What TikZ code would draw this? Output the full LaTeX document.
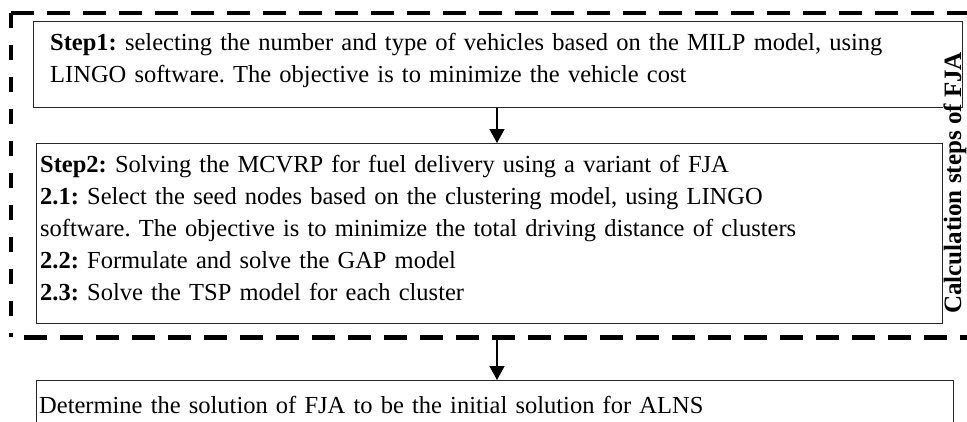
\documentclass[tikz,border=0pt]{standalone}
\usepackage{fontspec}
\setmainfont{Liberation Serif}
\usetikzlibrary{arrows.meta}
\frenchspacing
\begin{document}
\begin{tikzpicture}[x=1pt,y=-1pt,
  frame/.style={draw=black!85, line width=1.4pt, inner sep=0pt, anchor=north west},
  body/.style={inner sep=0pt, anchor=base west, align=left, text width=925pt,
    font=\fontsize{24.5}{32.5}\selectfont},
  flow/.style={line width=1.4pt, -{Triangle[length=14pt,width=15pt]}},
  hdash/.style={line width=4.5pt, dash pattern=on 23pt off 13pt},
  vdash/.style={line width=4pt, dash pattern=on 15pt off 17pt},
]
\useasboundingbox (0,0) rectangle (967,421);

% group frame around the two FJA steps
\node[inner sep=0pt, anchor=north west, minimum width=969pt, minimum height=324pt] (grp) at (11,13) {};
\draw[hdash] (grp.north west) -- (grp.north east);
\draw[vdash] (grp.north west) -- (grp.south west);
\draw[hdash, dash phase=23pt] (grp.south west) -- (grp.south east);

% step boxes
\node[frame, minimum width=929pt, minimum height=86pt] (s1) at (33,21) {};
\node[frame, minimum width=906pt, minimum height=180pt] (s2) at (36,143) {};
\node[frame, minimum width=917pt, minimum height=80pt] (s3) at (36,380) {};

\node[body] (t1) at (50,50) {\textbf{Step1:} selecting the number and type of vehicles based on the MILP model, using\\
LINGO software. The objective is to minimize the vehicle cost};

\node[body, font=\fontsize{24.5}{32}\selectfont] (t2) at (40,172) {\textbf{Step2:} Solving the MCVRP for fuel delivery using a variant of FJA\\
\textbf{2.1:} Select the seed nodes based on the clustering model, using LINGO\\
software. The objective is to minimize the total driving distance of clusters\\
\textbf{2.2:} Formulate and solve the GAP model\\
\textbf{2.3:} Solve the TSP model for each cluster};

\node[body] (t3) at (39,413) {Determine the solution of FJA to be the initial solution for ALNS};

% side label of the group
\node[rotate=90, anchor=base west, fill=white, inner sep=0pt, text depth=0pt,
  font=\bfseries\fontsize{25}{25}\selectfont] (lbl) at (961,314) {Calculation steps of FJA};

% connectors
\coordinate (ax) at (497,0);
\draw[flow] (s1.south -| ax) -- (s2.north -| ax);
\draw[flow] (grp.south -| ax) -- (s3.north -| ax);
\end{tikzpicture}
\end{document}
